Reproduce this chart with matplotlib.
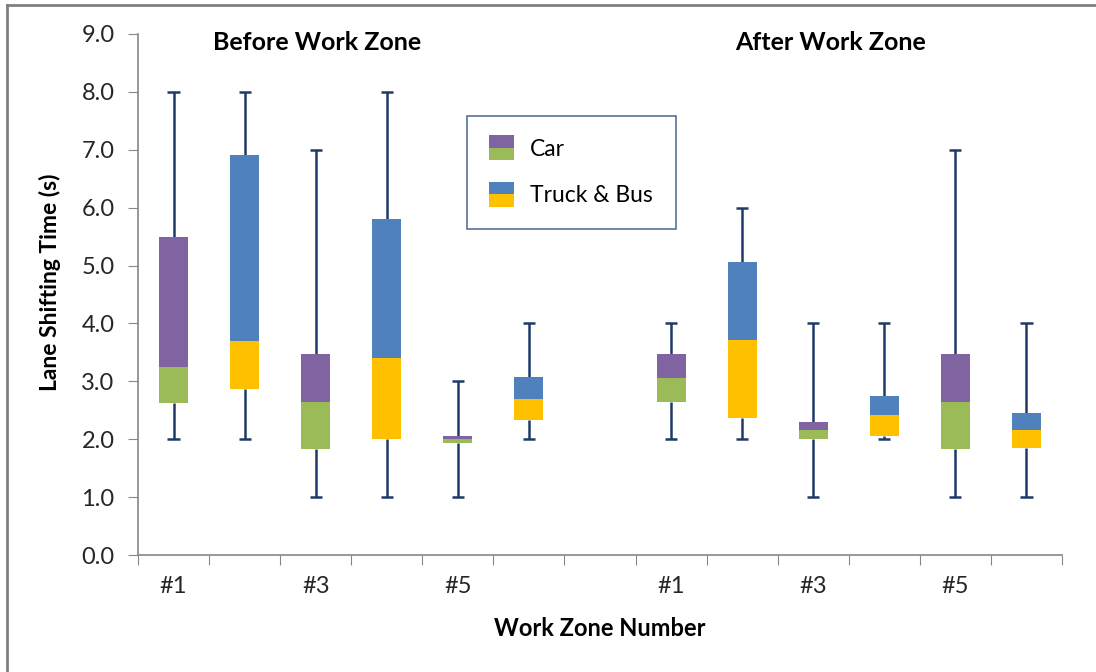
import numpy as np
import matplotlib
matplotlib.use('Agg')
import matplotlib.pyplot as plt
from matplotlib.patches import Rectangle
from matplotlib.legend_handler import HandlerBase
from matplotlib.lines import Line2D

plt.rcParams['font.family'] = ['Lato', 'DejaVu Sans']

# 13 slots: 6 before, one empty gap, 6 after (car / truck alternating)
slot_labels = ['#1', '', '#3', '', '#5', '', '', '#1', '', '#3', '', '#5', '']
vehicle = ['car', 'truck', 'car', 'truck', 'car', 'truck', None,
           'car', 'truck', 'car', 'truck', 'car', 'truck']
w_low = [2.0, 2.0, 1.0, 1.0, 1.0, 2.0, np.nan, 2.0, 2.0, 1.0, 2.0, 1.0, 1.0]
q1 = [2.62, 2.87, 1.83, 2.0, 1.93, 2.33, np.nan, 2.65, 2.37, 2.0, 2.05, 1.83, 1.85]
median = [3.25, 3.70, 2.65, 3.40, 2.0, 2.69, np.nan, 3.06, 3.71, 2.16, 2.42, 2.65, 2.16]
q3 = [5.49, 6.91, 3.47, 5.80, 2.05, 3.07, np.nan, 3.47, 5.06, 2.30, 2.75, 3.47, 2.45]
w_high = [8.0, 8.0, 7.0, 8.0, 3.0, 4.0, np.nan, 4.0, 6.0, 4.0, 4.0, 7.0, 4.0]

colors = {'car': ('#8064A2', '#9BBB59'), 'truck': ('#4F81BD', '#FFC000')}
whisker_color = '#1F3A68'

x = np.arange(len(slot_labels))
w_low, q1, median, q3, w_high = map(np.array, (w_low, q1, median, q3, w_high))
upper_c = [colors[v][0] if v else 'none' for v in vehicle]
lower_c = [colors[v][1] if v else 'none' for v in vehicle]

fig = plt.figure(figsize=(10.96, 6.72), dpi=100)
ax = fig.add_axes([138 / 1096, 1 - 555 / 672, 924 / 1096, 521 / 672])

# whiskers behind the boxes
cap = 0.085
ax.vlines(x, q3, w_high, color=whisker_color, lw=1.8, zorder=1)
ax.vlines(x, w_low, q1, color=whisker_color, lw=1.8, zorder=1)
ax.hlines(w_high, x - cap, x + cap, color=whisker_color, lw=1.8, zorder=1)
ax.hlines(w_low, x - cap, x + cap, color=whisker_color, lw=1.8, zorder=1)

ax.bar(x, median - q1, bottom=q1, width=0.41, color=lower_c, zorder=2)
ax.bar(x, q3 - median, bottom=median, width=0.41, color=upper_c, zorder=2)

ax.set_xlim(-0.5, len(slot_labels) - 0.5)
ax.set_ylim(0, 9)
ax.set_yticks(np.arange(0, 9.5, 1.0))
ax.set_yticklabels([f'{v:.1f}' for v in np.arange(0, 9.5, 1.0)])
ax.set_xticks(np.arange(-0.5, len(slot_labels)), minor=False)
ax.set_xticklabels([])
ax.set_xticks(x, minor=True)
ax.set_xticklabels(slot_labels, minor=True)
ax.tick_params(axis='x', which='minor', length=0, pad=15, labelsize=17, labelcolor='#262626')
ax.tick_params(axis='x', which='major', length=7, color='#888888')
ax.tick_params(axis='y', length=7, color='#888888', pad=10, labelsize=17, labelcolor='#262626')

for side in ['top', 'right']:
    ax.spines[side].set_visible(False)
for side in ['left', 'bottom']:
    ax.spines[side].set_color('#888888')
    ax.spines[side].set_linewidth(1.2)

fig.text(317 / 1096, 1 - 43 / 672, 'Before Work Zone', ha='center', va='center',
         fontsize=18, fontweight='bold')
fig.text(831 / 1096, 1 - 43 / 672, 'After Work Zone', ha='center', va='center',
         fontsize=18, fontweight='bold')
fig.text(50 / 1096, 1 - 282 / 672, 'Lane Shifting Time (s)', ha='center', va='center',
         rotation=90, fontsize=16.5, fontweight='bold')
fig.text(600 / 1096, 1 - 628 / 672, 'Work Zone Number', ha='center', va='center',
         fontsize=17, fontweight='bold')


class SplitPatch(HandlerBase):
    def __init__(self, top, bottom):
        super().__init__()
        self.top, self.bottom = top, bottom

    def create_artists(self, legend, orig_handle, xdescent, ydescent, width, height,
                       fontsize, trans):
        s = 18
        x0 = -xdescent + (width - s) / 2
        y0 = -ydescent + (height - s) / 2
        lo = Rectangle((x0, y0), s, s / 2, facecolor=self.bottom, edgecolor='none', transform=trans)
        hi = Rectangle((x0, y0 + s / 2), s, s / 2, facecolor=self.top, edgecolor='none', transform=trans)
        return [lo, hi]


h_car = Line2D([], [])
h_truck = Line2D([], [])
leg = ax.legend([h_car, h_truck], ['Car', 'Truck & Bus'],
                handler_map={h_car: SplitPatch(*colors['car']),
                             h_truck: SplitPatch(*colors['truck'])},
                loc='upper left', bbox_to_anchor=((467 - 138) / 924, (555 - 116) / 521),
                fontsize=16.5, frameon=True, fancybox=False, handlelength=1.0,
                handletextpad=0.75, labelspacing=1.1, borderpad=1.0, borderaxespad=0)
leg.get_frame().set_edgecolor('#2F4F7F')
leg.get_frame().set_linewidth(1.2)

# chart-area border (top and left edges visible)
fig.add_artist(Line2D([7 / 1096, 7 / 1096], [0, 1 - 5 / 672], color='#808080', lw=2))
fig.add_artist(Line2D([7 / 1096, 1], [1 - 5 / 672, 1 - 5 / 672], color='#808080', lw=2))

fig.savefig('out.png', dpi=100)
